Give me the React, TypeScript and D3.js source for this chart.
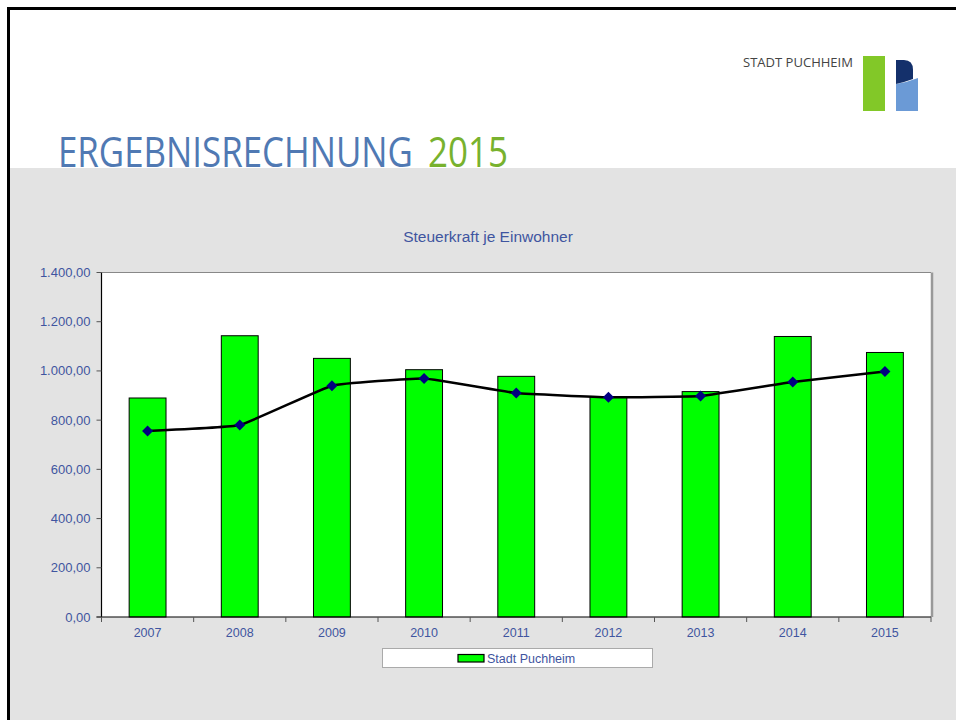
import React, { useLayoutEffect, useRef, useState } from "react";
import * as d3 from "d3";

const years = ["2007", "2008", "2009", "2010", "2011", "2012", "2013", "2014", "2015"];
const barValues = [890, 1143, 1051, 1005, 978, 896, 916, 1140, 1075];
const lineValues = [756, 780, 940, 969, 910, 893, 898, 955, 998];
const yTicks = [0, 200, 400, 600, 800, 1000, 1200, 1400];

const W = 956;
const H = 720;
const plot = { left: 101.5, top: 272.5, right: 931, bottom: 617 };

const fmt = (v: number) => {
  const s = v.toFixed(2).replace(".", ",");
  const [i, d] = s.split(",");
  return i.replace(/\B(?=(\d{3})+(?!\d))/g, ".") + "," + d;
};

function FitText(props: { x: number; y: number; width: number; fontSize: number; fill: string; family: string; children: string }) {
  const ref = useRef<SVGTextElement>(null);
  const [sx, setSx] = useState(1);
  useLayoutEffect(() => {
    if (ref.current) {
      const len = ref.current.getComputedTextLength();
      if (len > 0) setSx(props.width / len);
    }
  }, [props.width]);
  return (
    <g transform={`translate(${props.x},${props.y}) scale(${sx},1)`}>
      <text ref={ref} x={0} y={0} fontFamily={props.family} fontSize={props.fontSize} fill={props.fill}>
        {props.children}
      </text>
    </g>
  );
}

export default function App() {
  const x = d3.scaleBand<string>().domain(years).range([plot.left, plot.right]).paddingInner(0).paddingOuter(0);
  const y = d3.scaleLinear().domain([0, 1400]).range([plot.bottom, plot.top]);
  const bw = x.bandwidth() * 0.4;
  const cx = (yr: string) => (x(yr) as number) + x.bandwidth() / 2;
  const line = d3
    .line<number>()
    .x((_, i) => cx(years[i]))
    .y((v) => y(v))
    .curve(d3.curveCardinal.tension(0.7));
  const blue = "#3f55a0";
  const font = "'Liberation Sans', Arial, sans-serif";
  const head = "'Open Sans', sans-serif";

  return (
    <svg width={W} height={H} style={{ position: "absolute", left: 0, top: 0 }} xmlns="http://www.w3.org/2000/svg">
      <rect x={0} y={0} width={W} height={H} fill="#ffffff" />
      <rect x={10} y={168} width={W - 10} height={H - 168} fill="#e3e3e3" />
      {/* page border */}
      <path d={`M8.5,${H} V8.5 H${W}`} fill="none" stroke="#000" strokeWidth={3} />

      {/* header */}
      <FitText x={58} y={167} width={355} fontSize={42} fill="#5079b3" family={head}>
        ERGEBNISRECHNUNG
      </FitText>
      <FitText x={428} y={167} width={80} fontSize={42} fill="#78b22e" family={head}>
        2015
      </FitText>
      <FitText x={743} y={67} width={110} fontSize={13.5} fill="#444" family={head}>
        STADT PUCHHEIM
      </FitText>
      <rect x={863} y={56} width={22} height={55} fill="#82c828" />
      <path d="M896,84 Q908,82 918,78 V111 H896 Z" fill="#6b9ad6" />
      <path d="M896,60 H904 Q913,60 913,70 V79 Q905,82 896,84 Z" fill="#14306b" />

      {/* chart title */}
      <text x={488} y={242} textAnchor="middle" fontFamily={font} fontSize={15.5} fill={blue}>
        Steuerkraft je Einwohner
      </text>

      {/* plot area */}
      <rect x={plot.left} y={plot.top} width={plot.right - plot.left} height={plot.bottom - plot.top} fill="#fff" />
      <line x1={plot.left} x2={plot.right} y1={plot.top} y2={plot.top} stroke="#888" strokeWidth={1} />
      <line x1={plot.right + 1} x2={plot.right + 1} y1={plot.top} y2={plot.bottom} stroke="#999" strokeWidth={2.5} />

      {/* bars */}
      {years.map((yr, i) => (
        <rect
          key={yr}
          x={cx(yr) - bw / 2}
          y={y(barValues[i])}
          width={bw}
          height={plot.bottom - y(barValues[i])}
          fill="#00ff00"
          stroke="#000"
          strokeWidth={1}
        />
      ))}

      {/* axes */}
      <line x1={plot.left} x2={plot.left} y1={plot.top} y2={plot.bottom} stroke="#000" strokeWidth={1.2} />
      <line x1={plot.left - 5} x2={plot.right} y1={plot.bottom} y2={plot.bottom} stroke="#000" strokeWidth={1.2} />
      {yTicks.map((t) => (
        <g key={t}>
          <line x1={plot.left - 5} x2={plot.left} y1={y(t)} y2={y(t)} stroke="#555" />
          <text x={plot.left - 11} y={y(t) + 4.5} textAnchor="end" fontFamily={font} fontSize={13} fill={blue}>
            {fmt(t)}
          </text>
        </g>
      ))}
      {years.map((yr) => (
        <g key={yr}>
          <line x1={x(yr)} x2={x(yr)} y1={plot.bottom} y2={plot.bottom + 5} stroke="#555" />
          <text x={cx(yr)} y={637} textAnchor="middle" fontFamily={font} fontSize={12.5} fill={blue}>
            {yr}
          </text>
        </g>
      ))}
      <line x1={plot.right} x2={plot.right} y1={plot.bottom} y2={plot.bottom + 5} stroke="#555" />

      {/* line */}
      <path d={line(lineValues) || ""} fill="none" stroke="#000" strokeWidth={2.5} />
      {lineValues.map((v, i) => (
        <path
          key={i}
          d={`M${cx(years[i])},${y(v) - 5.5} l5.5,5.5 l-5.5,5.5 l-5.5,-5.5 Z`}
          fill="#000080"
        />
      ))}

      {/* legend */}
      <rect x={382.5} y={648.5} width={270} height={19} fill="#fff" stroke="#aaa" strokeWidth={1} />
      <rect x={458} y={654.5} width={26} height={7.5} fill="#00ff00" stroke="#000" strokeWidth={1.2} />
      <text x={487} y={663} fontFamily={font} fontSize={12.5} fill={blue}>
        Stadt Puchheim
      </text>
    </svg>
  );
}
